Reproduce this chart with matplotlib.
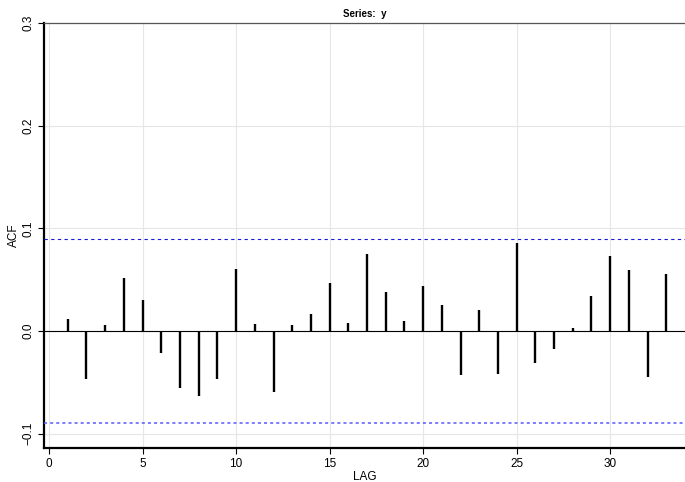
import matplotlib
matplotlib.use("Agg")
import matplotlib.pyplot as plt
import numpy as np

plt.rcParams['font.family'] = ['Liberation Sans', 'DejaVu Sans']

lags = list(range(1, 34))
acf = [0.0117, -0.0468, 0.0058, 0.0513, 0.0302, -0.0214, -0.0552, -0.0633, -0.0464, 0.0607,
       0.0065, -0.0597, 0.0058, 0.0169, 0.0464, 0.0075, 0.0753, 0.0383, 0.0094, 0.0442,
       0.0256, -0.0429, 0.0208, -0.0416, 0.0854, -0.0308, -0.0175, 0.0032, 0.0338, 0.0731,
       0.0594, -0.0445, 0.0552]
bound = 0.0894
xticks = [0, 5, 10, 15, 20, 25, 30]
yticks = [-0.1, 0.0, 0.1, 0.2, 0.3]
ytick_labels = ['\u22120.1', '0.0', '0.1', '0.2', '0.3']

fig = plt.figure(figsize=(6.85, 4.82), dpi=100)
ax = fig.add_axes([44/685, 1-448/482, 1-44/685, (448-23)/482])
ax.set_xlim(-0.27, 34.0)
ax.set_ylim(-0.114, 0.3)

for t in xticks:
    ax.axvline(t, color='#e6e6e6', lw=0.8, zorder=0)
for t in yticks:
    ax.axhline(t, color='#e6e6e6', lw=0.8, zorder=0)

ax.axhline(0, color='black', lw=0.8, zorder=1)
ax.vlines(lags, 0, acf, color='black', lw=1.7, zorder=2)
ax.axhline(bound, color='#1a1add', lw=0.8, ls=(0, (3, 3)), zorder=3)
ax.axhline(-bound, color='#5a5aff', lw=1.1, ls=(0, (2, 2)), zorder=3)

ax.set_xticks(xticks)
ax.set_yticks(yticks)
ax.set_yticklabels(ytick_labels, rotation=90, va='center')
ax.tick_params(axis='both', labelsize=8.5, length=4, width=0.8, color='black', pad=3)

ax.spines['right'].set_visible(False)
ax.spines['top'].set_color('#555555')
ax.spines['top'].set_linewidth(0.9)
ax.spines['left'].set_linewidth(1.6)
ax.spines['bottom'].set_linewidth(1.6)

ax.set_xlabel('LAG', fontsize=8.5, labelpad=1)
ax.set_ylabel('ACF', fontsize=8.5, labelpad=2)
ax.set_title('Series:  y', fontsize=7, fontweight='bold', pad=4)

fig.savefig('out.png', dpi=100)
